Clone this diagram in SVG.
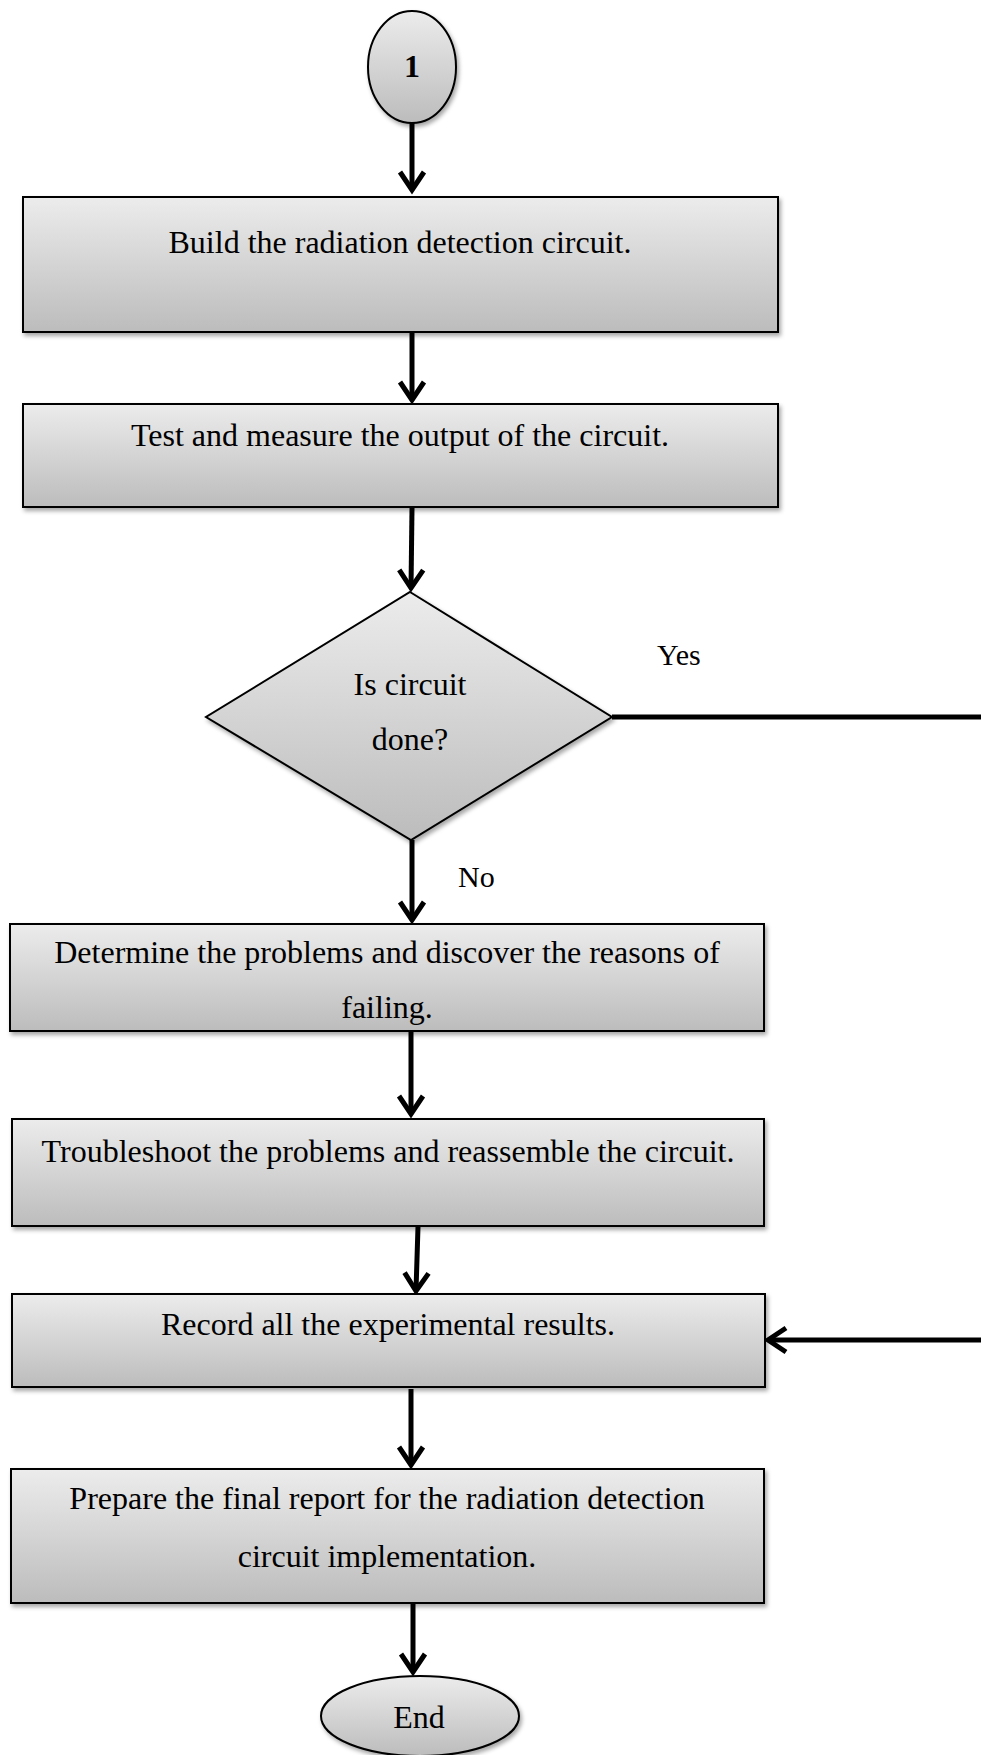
<svg xmlns="http://www.w3.org/2000/svg" width="981" height="1755" viewBox="0 0 981 1755">
<defs>
<linearGradient id="g" x1="0" y1="0" x2="0" y2="1">
<stop offset="0" stop-color="#ececec"/>
<stop offset="1" stop-color="#bcbcbc"/>
</linearGradient>
<filter id="sh" x="-5%" y="-5%" width="115%" height="125%">
<feDropShadow dx="2" dy="3" stdDeviation="2" flood-color="#000" flood-opacity="0.35"/>
</filter>
<marker id="ah" markerUnits="userSpaceOnUse" viewBox="-30 -20 40 40" refX="0" refY="0" markerWidth="40" markerHeight="40" orient="auto">
<path d="M-18,-12 L0,0 L-18,12" fill="none" stroke="#000" stroke-width="5" stroke-linejoin="miter" stroke-linecap="butt"/>
</marker>
</defs>
<style>
.n{fill:url(#g);stroke:#000;stroke-width:2;filter:url(#sh)}
.t{font-family:"Liberation Serif","Times New Roman",serif;font-size:32px;fill:#000;text-anchor:middle}
.c{fill:none;stroke:#000;stroke-width:5}
.lbl{font-family:"Liberation Serif","Times New Roman",serif;font-size:30px;fill:#000}
</style>
<rect width="981" height="1755" fill="#fff"/>
<g id="connectors">
<path class="c" d="M412,123 L412,190" marker-end="url(#ah)"/>
<path class="c" d="M412,333 L412,400" marker-end="url(#ah)"/>
<path class="c" d="M412,508 L411,588" marker-end="url(#ah)"/>
<path class="c" d="M412,840 L412,920" marker-end="url(#ah)"/>
<path class="c" d="M411,1032 L411,1114" marker-end="url(#ah)"/>
<path class="c" d="M418,1227 L416,1291" marker-end="url(#ah)"/>
<path class="c" d="M612,717 L990,717"/>
<path class="c" d="M990,1340 L768,1340" marker-end="url(#ah)"/>
<path class="c" d="M411,1389 L411,1465" marker-end="url(#ah)"/>
<path class="c" d="M413,1604 L413,1672" marker-end="url(#ah)"/>
</g>
<g id="start">
<ellipse class="n" cx="412" cy="67" rx="44" ry="56"/>
<text class="t" x="412" y="70" font-weight="bold" dominant-baseline="middle">1</text>
</g>
<g id="build">
<rect class="n" x="23" y="197" width="755" height="135"/>
<text class="t" x="400" y="253">Build the radiation detection circuit.</text>
</g>
<g id="test">
<rect class="n" x="23" y="404" width="755" height="103"/>
<text class="t" x="400" y="446">Test and measure the output of the circuit.</text>
</g>
<g id="decision">
<polygon class="n" points="410,592 612,717 411,840 206,717"/>
<text class="t" x="410" y="695">Is circuit</text>
<text class="t" x="410" y="750">done?</text>
</g>
<text class="lbl" x="657" y="665">Yes</text>
<text class="lbl" x="458" y="887">No</text>
<g id="determine">
<rect class="n" x="10" y="924" width="754" height="107"/>
<text class="t" x="387" y="963">Determine the problems and discover the reasons of</text>
<text class="t" x="387" y="1018">failing.</text>
<line x1="10" y1="1031" x2="764" y2="1031" stroke="#000" stroke-width="2"/>
</g>
<g id="troubleshoot">
<rect class="n" x="12" y="1119" width="752" height="107"/>
<text class="t" x="388" y="1162">Troubleshoot the problems and reassemble the circuit.</text>
</g>
<g id="record">
<rect class="n" x="12" y="1294" width="753" height="93"/>
<text class="t" x="388" y="1335">Record all the experimental results.</text>
</g>
<g id="report">
<rect class="n" x="11" y="1469" width="753" height="134"/>
<text class="t" x="387" y="1509">Prepare the final report for the radiation detection</text>
<text class="t" x="387" y="1567">circuit implementation.</text>
</g>
<g id="end">
<ellipse class="n" cx="420" cy="1716" rx="99" ry="40"/>
<text class="t" x="419" y="1728">End</text>
</g>
</svg>
